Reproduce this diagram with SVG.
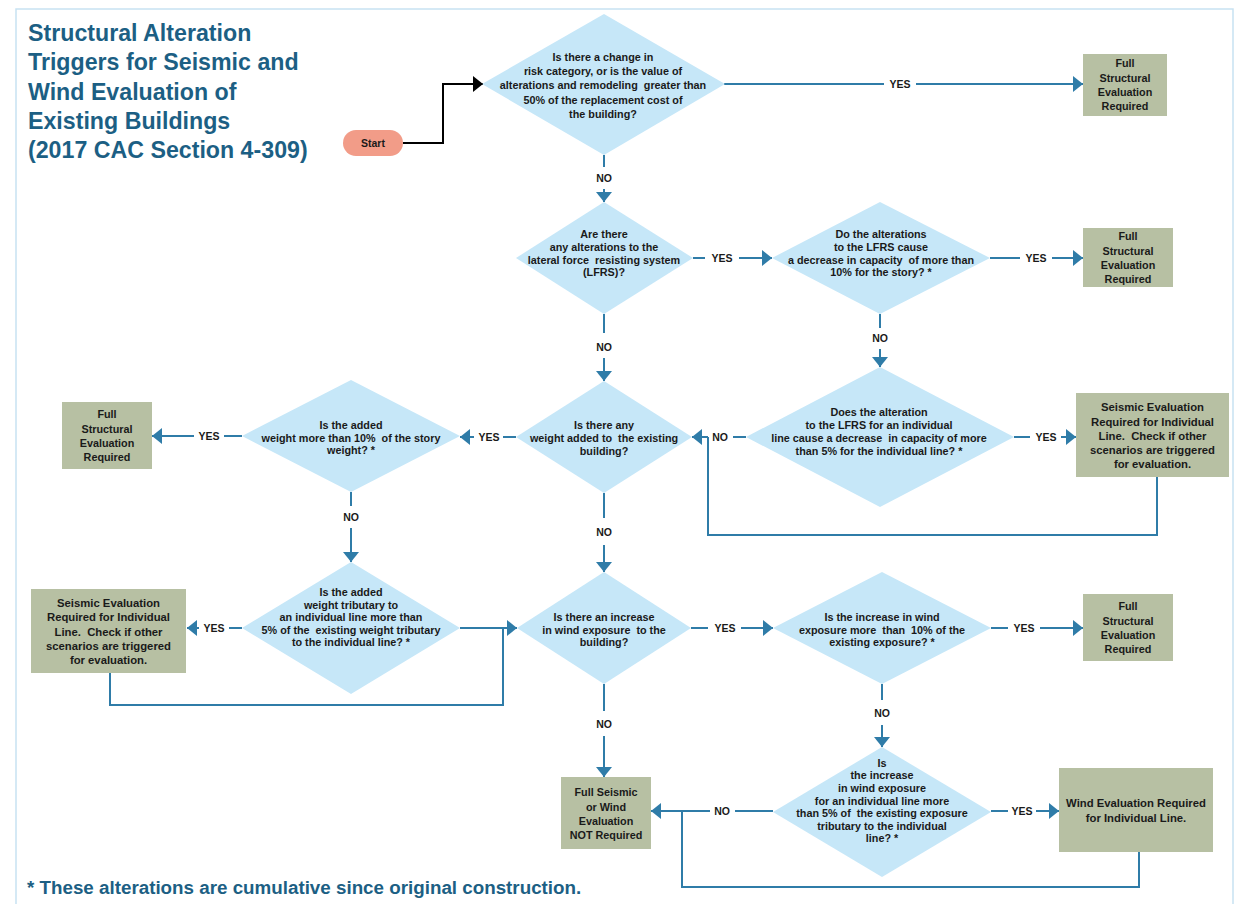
<svg xmlns="http://www.w3.org/2000/svg" width="1239" height="904" viewBox="0 0 1239 904">
<style>
text{font-family:"Liberation Sans",Arial,Helvetica,sans-serif;font-weight:bold;white-space:pre}
.t{fill:#1c5f84;font-size:23.2px}
.f{fill:#1c5f84;font-size:18.8px}
.d{fill:#1a1a1a;font-size:10.8px;text-anchor:middle}
.b{fill:#1a1a1a;font-size:10.8px;text-anchor:middle}
.b2{fill:#1a1a1a;font-size:11.3px;text-anchor:middle}
.l{fill:#1a1a1a;font-size:10.5px;text-anchor:middle}
.dia{fill:#c6e7f8}
.box{fill:#b7c0a3}
.c{fill:none;stroke:#2f7ca8;stroke-width:2}
.ca{fill:none;stroke:#2f7ca8;stroke-width:2;marker-end:url(#ah)}
</style>
<defs>
<marker id="ah" markerUnits="userSpaceOnUse" markerWidth="10" markerHeight="16" refX="10" refY="8" orient="auto">
<path d="M0,0 L10,8 L0,16 z" fill="#2f7ca8"/>
</marker>
<marker id="ahk" markerUnits="userSpaceOnUse" markerWidth="10" markerHeight="16" refX="10" refY="8" orient="auto">
<path d="M0,0 L10,8 L0,16 z" fill="#000"/>
</marker>
</defs>
<rect x="0" y="0" width="1239" height="904" fill="#fff"/>
<path d="M16,904 V9 H1233 V904" fill="none" stroke="#c8e2f2" stroke-width="1.5"/>

<g id="title">
<text class="t" x="28" y="41">Structural Alteration</text>
<text class="t" x="28" y="70">Triggers for Seismic and</text>
<text class="t" x="28" y="99.5">Wind Evaluation of</text>
<text class="t" x="28" y="128.5">Existing Buildings</text>
<text class="t" x="28" y="157.5">(2017 CAC Section 4-309)</text>
</g>

<g id="connectors">
<path d="M403,143 H443 V84 H483" fill="none" stroke="#000" stroke-width="2" marker-end="url(#ahk)"/>
<path class="c" d="M724,84 H884"/>
<text class="l" x="900" y="88">YES</text>
<path class="ca" d="M916,84 H1083"/>
<path class="c" d="M604,155 V167"/>
<text class="l" x="604" y="182">NO</text>
<path class="ca" d="M604,189 V202"/>
<path class="c" d="M693,258 H705"/>
<text class="l" x="722" y="262">YES</text>
<path class="ca" d="M739,258 H772"/>
<path class="c" d="M990,258 H1020"/>
<text class="l" x="1036" y="262">YES</text>
<path class="ca" d="M1052,258 H1083"/>
<path class="c" d="M880,314 V328"/>
<text class="l" x="880" y="342">NO</text>
<path class="ca" d="M880,349 V367"/>
<path class="c" d="M604,314 V333"/>
<text class="l" x="604" y="351">NO</text>
<path class="ca" d="M604,358 V381"/>
<path class="c" d="M746,437 H733"/>
<text class="l" x="720" y="441">NO</text>
<path class="ca" d="M708,437 H692"/>
<path class="c" d="M1157,477 V535 H708 V437"/>
<path class="c" d="M1014,437 H1030"/>
<text class="l" x="1046" y="441">YES</text>
<path class="ca" d="M1061,437 H1076"/>
<path class="c" d="M516,437 H503"/>
<text class="l" x="489" y="441">YES</text>
<path class="ca" d="M474,437 H460"/>
<path class="c" d="M242,436 H224"/>
<text class="l" x="209" y="440">YES</text>
<path class="ca" d="M194,436 H152"/>
<path class="c" d="M351,492 V506"/>
<text class="l" x="351" y="521">NO</text>
<path class="ca" d="M351,528 V562"/>
<path class="c" d="M242,628 H229"/>
<text class="l" x="214" y="632">YES</text>
<path class="ca" d="M199,628 H187"/>
<path class="ca" d="M460,628 H517"/>
<path class="c" d="M110,673 V705 H503 V628"/>
<path class="c" d="M604,493 V518"/>
<text class="l" x="604" y="536">NO</text>
<path class="ca" d="M604,545 V572"/>
<path class="c" d="M691,628 H708"/>
<text class="l" x="725" y="632">YES</text>
<path class="ca" d="M741,628 H773"/>
<path class="c" d="M991,628 H1008"/>
<text class="l" x="1024" y="632">YES</text>
<path class="ca" d="M1040,628 H1083"/>
<path class="c" d="M882,684 V700"/>
<text class="l" x="882" y="717">NO</text>
<path class="ca" d="M882,725 V747"/>
<path class="c" d="M773,811 H735"/>
<text class="l" x="722" y="815">NO</text>
<path class="ca" d="M710,811 H651"/>
<path class="c" d="M1139,852 V887 H682 V811"/>
<path class="c" d="M604,684 V711"/>
<text class="l" x="604" y="728">NO</text>
<path class="ca" d="M604,736 V777"/>
<path class="c" d="M991,811 H1008"/>
<text class="l" x="1022" y="815">YES</text>
<path class="ca" d="M1036,811 H1059"/>
</g>

<g id="start">
<rect x="343" y="130" width="60" height="26" rx="13" fill="#f29c88"/>
<text class="l" x="373" y="147">Start</text>
</g>

<g id="d1">
<polygon class="dia" points="604,14 725,84 604,155 482,84"/>
<text class="d" x="603" y="61">Is there a change in</text>
<text class="d" x="603" y="75">risk category, or is the value of</text>
<text class="d" x="603" y="89">alterations and remodeling  greater than</text>
<text class="d" x="603" y="104">50% of the replacement cost of</text>
<text class="d" x="603" y="118">the building?</text>
</g>

<g id="b1">
<rect class="box" x="1083" y="54" width="84" height="62"/>
<text class="b" x="1125" y="67">Full</text>
<text class="b" x="1125" y="82">Structural</text>
<text class="b" x="1125" y="96">Evaluation</text>
<text class="b" x="1125" y="110">Required</text>
</g>

<g id="d2">
<polygon class="dia" points="604,202 693,258 604,314 516,258"/>
<text class="d" x="604" y="238">Are there</text>
<text class="d" x="604" y="251">any alterations to the</text>
<text class="d" x="604" y="264">lateral force  resisting system</text>
<text class="d" x="604" y="276">(LFRS)?</text>
</g>

<g id="d3">
<polygon class="dia" points="880,202 990,258 880,314 772,258"/>
<text class="d" x="881" y="238">Do the alterations</text>
<text class="d" x="881" y="251">to the LFRS cause</text>
<text class="d" x="881" y="264">a decrease in capacity  of more than</text>
<text class="d" x="881" y="276">10% for the story? *</text>
</g>

<g id="b2">
<rect class="box" x="1083" y="228" width="90" height="59"/>
<text class="b" x="1128" y="240">Full</text>
<text class="b" x="1128" y="254.5">Structural</text>
<text class="b" x="1128" y="268.5">Evaluation</text>
<text class="b" x="1128" y="283">Required</text>
</g>

<g id="d4">
<polygon class="dia" points="880,367 1014,437 880,507 746,437"/>
<text class="d" x="879" y="416">Does the alteration</text>
<text class="d" x="879" y="429">to the LFRS for an individual</text>
<text class="d" x="879" y="442">line cause a decrease  in capacity of more</text>
<text class="d" x="879" y="455">than 5% for the individual line? *</text>
</g>

<g id="b3">
<rect class="box" x="1076" y="393" width="153" height="84"/>
<text class="b2" x="1152.5" y="411">Seismic Evaluation</text>
<text class="b2" x="1152.5" y="425.5">Required for Individual</text>
<text class="b2" x="1152.5" y="440">Line.  Check if other</text>
<text class="b2" x="1152.5" y="454">scenarios are triggered</text>
<text class="b2" x="1152.5" y="468">for evaluation.</text>
</g>

<g id="d5">
<polygon class="dia" points="604,381 692,437 604,493 516,437"/>
<text class="d" x="604" y="429">Is there any</text>
<text class="d" x="604" y="442">weight added to  the existing</text>
<text class="d" x="604" y="455">building?</text>
</g>

<g id="d6">
<polygon class="dia" points="351,380 460,436 351,492 242,436"/>
<text class="d" x="351" y="429">Is the added</text>
<text class="d" x="351" y="442">weight more than 10%  of the story</text>
<text class="d" x="351" y="454">weight? *</text>
</g>

<g id="b4">
<rect class="box" x="62" y="402" width="90" height="67"/>
<text class="b" x="107" y="418">Full</text>
<text class="b" x="107" y="432.5">Structural</text>
<text class="b" x="107" y="447">Evaluation</text>
<text class="b" x="107" y="461">Required</text>
</g>

<g id="d7">
<polygon class="dia" points="351,562 460,628 351,694 242,628"/>
<text class="d" x="351" y="596">Is the added</text>
<text class="d" x="351" y="609">weight tributary to</text>
<text class="d" x="351" y="621">an individual line more than</text>
<text class="d" x="351" y="634">5% of the  existing weight tributary</text>
<text class="d" x="351" y="646">to the individual line? *</text>
</g>

<g id="b5">
<rect class="box" x="31" y="589" width="155" height="84"/>
<text class="b2" x="108.5" y="607">Seismic Evaluation</text>
<text class="b2" x="108.5" y="621">Required for Individual</text>
<text class="b2" x="108.5" y="636">Line.  Check if other</text>
<text class="b2" x="108.5" y="650">scenarios are triggered</text>
<text class="b2" x="108.5" y="664">for evaluation.</text>
</g>

<g id="d8">
<polygon class="dia" points="604,572 691,628 604,684 517,628"/>
<text class="d" x="604" y="621">Is there an increase</text>
<text class="d" x="604" y="634">in wind exposure  to the</text>
<text class="d" x="604" y="646">building?</text>
</g>

<g id="d9">
<polygon class="dia" points="882,572 991,628 882,684 773,628"/>
<text class="d" x="882" y="621">Is the increase in wind</text>
<text class="d" x="882" y="634">exposure more  than  10% of the</text>
<text class="d" x="882" y="646">existing exposure? *</text>
</g>

<g id="b6">
<rect class="box" x="1083" y="594" width="90" height="67"/>
<text class="b" x="1128" y="610">Full</text>
<text class="b" x="1128" y="624.5">Structural</text>
<text class="b" x="1128" y="638.5">Evaluation</text>
<text class="b" x="1128" y="653">Required</text>
</g>

<g id="d10">
<polygon class="dia" points="882,747 991,812 882,877 773,812"/>
<text class="d" x="882" y="767">Is</text>
<text class="d" x="882" y="779">the increase</text>
<text class="d" x="882" y="792">in wind exposure</text>
<text class="d" x="882" y="805">for an individual line more</text>
<text class="d" x="882" y="817">than 5% of  the existing exposure</text>
<text class="d" x="882" y="830">tributary to the individual</text>
<text class="d" x="882" y="842">line? *</text>
</g>

<g id="b7">
<rect class="box" x="561" y="777" width="90" height="72"/>
<text class="b" x="606" y="796">Full Seismic</text>
<text class="b" x="606" y="811">or Wind</text>
<text class="b" x="606" y="825">Evaluation</text>
<text class="b" x="606" y="839">NOT Required</text>
</g>

<g id="b8">
<rect class="box" x="1059" y="768" width="154" height="84"/>
<text class="b2" x="1136" y="807">Wind Evaluation Required</text>
<text class="b2" x="1136" y="822">for Individual Line.</text>
</g>

<g id="footnote">
<text class="f" x="27" y="894">* These alterations are cumulative since original construction.</text>
</g>
</svg>
